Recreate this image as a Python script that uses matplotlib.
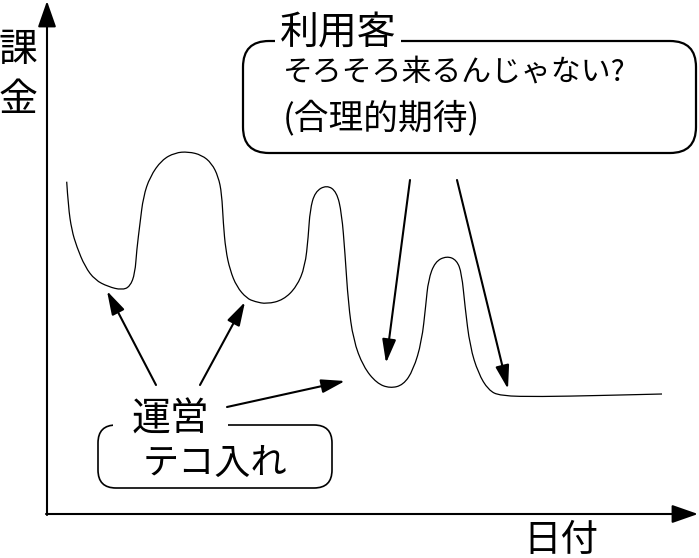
import matplotlib
matplotlib.use("Agg")
import matplotlib.pyplot as plt
from matplotlib.patches import FancyArrowPatch, FancyBboxPatch, PathPatch, Rectangle
from matplotlib.path import Path

plt.rcParams['font.family'] = ['Noto Sans CJK JP', 'DejaVu Sans']

# curve (pixel units, y grows downward)
curve_x = [66.7, 68.3, 71.7, 76.7, 85, 95, 108.3, 121.7, 130, 135, 136.7, 140, 143.3,
           150, 161.7, 175, 188.3, 201.7, 211.7, 218.3, 221.7, 223.3, 225.7, 230, 236.7,
           246.7, 255, 266.7, 283.3, 296.7, 305, 308.3, 310, 315, 326.7, 336.7, 341.7,
           345, 348.3, 353.3, 363.3, 376.7, 390, 403.3, 413.3, 421.7, 425.8, 428.3, 435,
           446.7, 456.7, 461.7, 465, 470, 478.3, 488.3, 500, 540, 600, 662]
curve_y = [181.7, 206.7, 230, 246.7, 266.7, 280, 286.7, 290, 286.7, 273.3, 250, 223.3, 196.7,
           176.7, 160, 152.7, 151.7, 155, 163.3, 176.7, 193.3, 223.3, 250, 270, 286.7,
           298.3, 301.7, 304, 300, 286.7, 266.7, 236.7, 210, 191.7, 185, 191.7, 213.3,
           253.3, 303.3, 340, 366.7, 383.3, 388.3, 385, 370, 341.7, 305, 280, 261.7,
           256, 260, 273.3, 306.7, 346.7, 373.3, 390, 396, 396.7, 395.5, 394]

# arrows: (tail, tip)
arrows = [((156, 385), (107, 291)),
          ((200, 385), (245, 302)),
          ((227, 407), (345, 381)),
          ((410, 180), (386, 363)),
          ((457, 180), (508, 389))]

y_label = ['課', '金']
x_label = '日付'
user_title = '利用客'
user_lines = ['そろそろ来るんじゃない?', '(合理的期待)']
ops_title = '運営'
ops_text = 'テコ入れ'

fig = plt.figure(figsize=(6.99, 5.58), dpi=100)
ax = fig.add_axes([0, 0, 1, 1])
ax.set_xlim(0, 699)
ax.set_ylim(558, 0)
ax.axis('off')

# axes with arrow heads
axis_style = '-|>,head_length=1.0,head_width=0.35'
ax.add_patch(FancyArrowPatch((47, 515), (47, 1), arrowstyle=axis_style,
                             mutation_scale=16, lw=1.5, color='black',
                             shrinkA=0, shrinkB=0))
ax.add_patch(FancyArrowPatch((46, 514), (698, 514), arrowstyle=axis_style,
                             mutation_scale=16, lw=1.5, color='black',
                             shrinkA=0, shrinkB=0))

# smooth curve through the read points
pts = list(zip(curve_x, curve_y))
verts = [pts[0]]
codes = [Path.MOVETO]
for i in range(1, len(pts) - 1):
    mid = ((pts[i][0] + pts[i + 1][0]) / 2, (pts[i][1] + pts[i + 1][1]) / 2)
    verts += [pts[i], mid]
    codes += [Path.CURVE3, Path.CURVE3]
verts.append(pts[-1])
codes.append(Path.LINETO)
ax.add_patch(PathPatch(Path(verts, codes), fill=False, lw=0.9, color='black'))

for tail, tip in arrows:
    ax.add_patch(FancyArrowPatch(tail, tip,
                                 arrowstyle='-|>,head_length=1.2,head_width=0.35',
                                 mutation_scale=12, lw=1.5, color='black',
                                 shrinkA=0, shrinkB=0))

# speech boxes
ax.add_patch(FancyBboxPatch((243, 41), 453, 112,
                            boxstyle='round,pad=0,rounding_size=26',
                            fill=False, lw=1.6, ec='black', zorder=2))
ax.add_patch(FancyBboxPatch((98, 425), 234, 63,
                            boxstyle='round,pad=0,rounding_size=18',
                            fill=False, lw=1.2, ec='black', zorder=2))
# gap in the top edge behind the box titles
ax.add_patch(Rectangle((113, 418), 115, 14, fc='white', ec='none', zorder=3))

ax.text(338, 33, user_title, fontsize=28, ha='center', va='center', zorder=5,
        bbox=dict(facecolor='white', edgecolor='none', pad=3))
ax.text(283, 72, user_lines[0], fontsize=21.5, ha='left', va='center')
ax.text(283, 118, user_lines[1], fontsize=25, ha='left', va='center')

ax.text(170, 420, ops_title, fontsize=28, ha='center', va='center', zorder=5)
ax.text(215, 464, ops_text, fontsize=26, ha='center', va='center')

ax.text(18, 50, y_label[0], fontsize=28, ha='center', va='center')
ax.text(18, 100, y_label[1], fontsize=28, ha='center', va='center')
ax.text(561, 540, x_label, fontsize=27, ha='center', va='center')

fig.savefig('out.png', dpi=100)
